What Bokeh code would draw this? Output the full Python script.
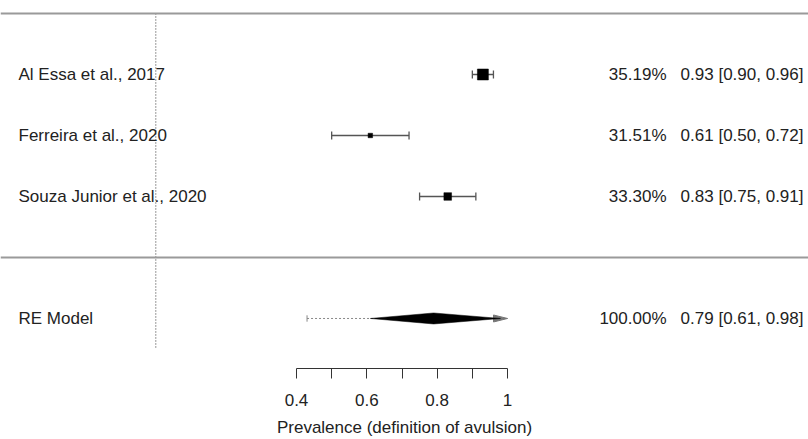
import numpy as np
from bokeh.plotting import figure
from bokeh.models import Range1d, Span, FixedTicker
from bokeh.embed import file_html
from bokeh.resources import INLINE
from bokeh.core.properties import value

# ---------------- data ----------------
studies = ["Al Essa et al., 2017", "Ferreira et al., 2020", "Souza Junior et al., 2020"]
est = [0.93, 0.61, 0.83]
ci_lb = [0.90, 0.50, 0.75]
ci_ub = [0.96, 0.72, 0.91]
weights = [35.19, 31.51, 33.30]

re_label = "RE Model"
re_est = 0.79
re_lb = 0.61
re_ub = 0.98
re_weight = 100.00
pi_lb = 0.43
pi_ub = 1.05          # beyond the axis limit -> drawn with an arrow

ref_value = 0.0
tick_values = [0.4, 0.5, 0.6, 0.7, 0.8, 0.9, 1.0]
tick_labels = ["0.4", "", "0.6", "", "0.8", "", "1"]
x_title = "Prevalence (definition of avulsion)"

# ---------------- layout ----------------
FRAME_W, FRAME_H = 808, 368
X0, X1 = -0.4416, 1.8558
Y0, Y1 = -1.820, 4.213
xscale = FRAME_W / (X1 - X0)
yscale = FRAME_H / (Y1 - Y0)
alim = (tick_values[0], tick_values[-1])

def px_to_x(page_px):
    return X0 + page_px / xscale

FONT = value("Liberation Sans")
FS = "17px"
TXT = "#222222"

k = len(studies)
rows = list(range(k, 0, -1))
sum_row = -1

p = figure(frame_width=FRAME_W, frame_height=FRAME_H,
           x_range=Range1d(X0, X1), y_range=Range1d(Y0, Y1),
           output_backend="svg", toolbar_location=None,
           y_axis_location=None, x_axis_location="below",
           min_border_left=0, min_border_right=0, min_border_top=0, min_border_bottom=0)
p.grid.visible = False
p.outline_line_color = None
p.background_fill_color = "white"
p.border_fill_color = "white"

# horizontal separators
p.add_layout(Span(location=k + 1, dimension="width", line_color="#9a9a9a", line_width=2))
p.add_layout(Span(location=0, dimension="width", line_color="#9a9a9a", line_width=2))

# reference line
p.segment(x0=[ref_value], y0=[k + 1], x1=[ref_value], y1=[sum_row - 0.5],
          line_color="#333333", line_width=1, line_dash="1 2")

# study CIs
cap = 4.0 / yscale
p.segment(x0=ci_lb, y0=rows, x1=ci_ub, y1=rows, line_color="#555555", line_width=1.3)
p.segment(x0=ci_lb, y0=[r - cap for r in rows], x1=ci_lb, y1=[r + cap for r in rows],
          line_color="#555555", line_width=1.3)
p.segment(x0=ci_ub, y0=[r - cap for r in rows], x1=ci_ub, y1=[r + cap for r in rows],
          line_color="#555555", line_width=1.3)

# squares sized by weight
w = np.array(weights)
smin, smax = 4.5, 11.0
sizes = smin + (w - w.min()) / (w.max() - w.min()) * (smax - smin)
p.scatter(x=est, y=rows, size=list(sizes), marker="square", fill_color="black",
          line_color="black", line_width=0.5)

# prediction interval (dotted), clipped at axis limit with arrow
pi_hi = min(pi_ub, alim[1])
p.segment(x0=[pi_lb], y0=[sum_row], x1=[pi_hi], y1=[sum_row],
          line_color="#888888", line_width=1, line_dash="2 2")
p.segment(x0=[pi_lb], y0=[sum_row - cap * 0.8], x1=[pi_lb], y1=[sum_row + cap * 0.8],
          line_color="#888888", line_width=1)
if pi_ub > alim[1]:
    aw = 14 / xscale
    ah = 3.5 / yscale
    p.patch(x=[alim[1], alim[1] - aw, alim[1] - aw], y=[sum_row, sum_row + ah, sum_row - ah],
            fill_color="#777777", line_color="#777777")

# summary diamond
dh = 5.5 / yscale
p.patch(x=[re_lb, re_est, re_ub, re_est],
        y=[sum_row, sum_row + dh, sum_row, sum_row - dh],
        fill_color="black", line_color="black", line_width=0.5)

# left labels
lab_x = px_to_x(18)
p.text(x=[lab_x] * (k + 1), y=rows + [sum_row], text=studies + [re_label],
       text_font=FONT, text_font_size=FS, text_color=TXT,
       text_align="left", text_baseline="middle")

# right columns
pct_x = px_to_x(666)
est_x = px_to_x(803)
pct_text = [f"{v:.2f}%" for v in weights] + [f"{re_weight:.2f}%"]
est_text = [f"{e:.2f} [{l:.2f}, {u:.2f}]" for e, l, u in zip(est, ci_lb, ci_ub)] + \
           [f"{re_est:.2f} [{re_lb:.2f}, {re_ub:.2f}]"]
p.text(x=[pct_x] * (k + 1), y=rows + [sum_row], text=pct_text,
       text_font=FONT, text_font_size=FS, text_color=TXT,
       text_align="right", text_baseline="middle")
p.text(x=[est_x] * (k + 1), y=rows + [sum_row], text=est_text,
       text_font=FONT, text_font_size=FS, text_color=TXT,
       text_align="right", text_baseline="middle")

# x axis
ax = p.xaxis[0]
ax.bounds = alim
ax.ticker = FixedTicker(ticks=tick_values)
ax.major_label_overrides = {t: l for t, l in zip(tick_values, tick_labels)}
ax.minor_tick_line_color = None
ax.major_tick_in = 0
ax.major_tick_out = 10
ax.axis_line_color = "#333333"
ax.major_tick_line_color = "#333333"
ax.major_label_text_font = "Liberation Sans"
ax.major_label_text_font_size = FS
ax.major_label_text_color = TXT
ax.major_label_standoff = 15
ax.axis_label = x_title
ax.axis_label_text_font = "Liberation Sans"
ax.axis_label_text_font_size = FS
ax.axis_label_text_font_style = "normal"
ax.axis_label_text_color = TXT
ax.axis_label_standoff = 9

open("out.html", "w").write(file_html(p, INLINE))
